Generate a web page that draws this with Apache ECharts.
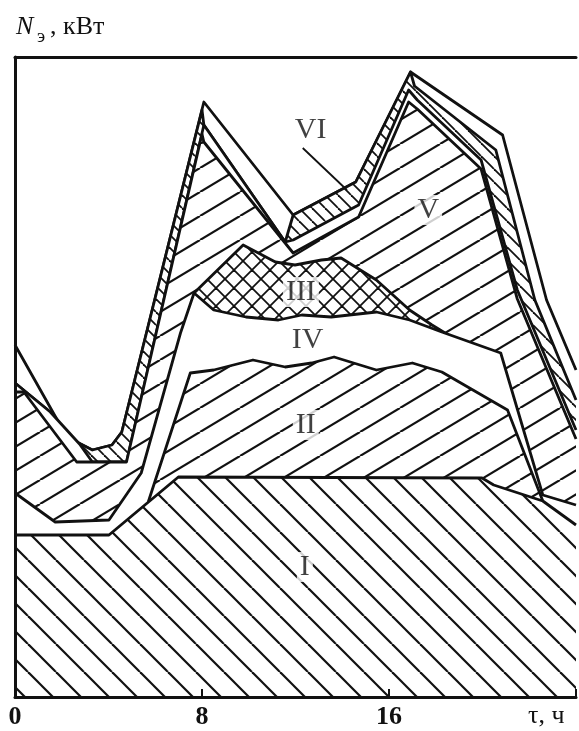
<!DOCTYPE html>
<html>
<head>
<meta charset="utf-8">
<script src="https://cdn.jsdelivr.net/npm/echarts@6/dist/echarts.min.js"></script>
<style>
  html, body { margin: 0; padding: 0; background: #fff; }
  #chart { width: 579px; height: 731px; }
</style>
</head>
<body>
<div id="chart"></div>
<script>
// Daily load graph: hour of day on x, power level of each band's upper edge on y.
// Each band is drawn from its upper edge down to the axis, top band first,
// so every lower band paints over the part of the band above it.

const hourTicks = [0, 8, 16];

// upper outline of the whole graph (white margin band above VI)
const outlineTop = [[0,352],[2.22,260],[3.31,247],[4.15,252],[4.57,265],[8.08,595],[11.90,482],[14.58,515],[16.92,625],[20.86,562],[22.74,397],[24,327]];
// upper edge of band VI
const levelVI = [[0,314],[1.51,285],[2.22,260],[3.31,247],[4.15,252],[4.57,265],[8.0,587],[8.08,572],[11.56,455],[11.90,482],[14.58,515],[16.92,625],[17.09,611],[20.57,547],[22.24,397],[24,297]];
// lower edge of band VI (white gap below it)
const levelGapVI = [[0,314],[1.51,285],[2.76,253],[3.31,235],[4.77,235],[8.08,572],[11.56,455],[11.90,457],[14.70,492],[16.84,607],[17.21,597],[19.94,537],[21.49,407],[24,267]];
// upper edge of band V
const levelV = [[0,305],[0.38,305],[2.64,235],[4.77,235],[8.0,563],[8.08,555],[11.90,444],[14.70,480],[16.84,595],[17.21,588],[19.94,528],[21.49,398],[24,258]];
// upper edge of band III
const levelIII = [[7.66,404],[9.76,452],[11.14,435],[11.98,432],[13.11,437],[13.95,439],[15.46,417],[16.88,387],[17.84,372],[18.47,363]];
// upper edge of band IV
const levelIV = [[0,204],[1.72,175],[4.02,177],[5.40,224],[7.08,364],[7.66,404],[8.50,387],[9.88,380],[11.27,377],[12.27,382],[13.53,380],[15.46,385],[16.88,377],[18.26,365],[20.78,344],[22.58,202],[24,192]];
// upper edge of band II
const levelII = [[5.70,195],[7.50,324],[8.50,327],[10.18,337],[11.56,330],[12.69,334],[13.65,340],[15.46,327],[17.0,334],[18.26,325],[21.07,287],[22.58,196]];
// upper edge of band I
const levelI = [[0,162],[4.02,162],[6.99,220],[19.98,219],[20.48,212],[22.58,196],[24,172]];

// band captions
const captionText = ['I', 'II', 'III', 'IV', 'V', 'VI'];
const captionHour = [12.4, 12.44, 12.23, 12.52, 17.68, 12.65];
const captionLevel = [130, 272, 405, 357, 487, 567];
// pointer from the VI caption to its band
const pointerVI = [[12.31,549],[14.2,507]];

const INK = '#111';
const SERIF = '"Liberation Serif", "DejaVu Serif", serif';

// Tileable hatch: each segment is repeated one tile left and right so corners join.
function hatch(w, h, segs, lw) {
  const c = document.createElement('canvas');
  c.width = w; c.height = h;
  const g = c.getContext('2d');
  g.fillStyle = '#fff';
  g.fillRect(0, 0, w, h);
  g.strokeStyle = INK;
  g.lineWidth = lw;
  segs.forEach(s => {
    [-w, 0, w].forEach(dx => {
      g.beginPath();
      g.moveTo(s[0] + dx, s[1]);
      g.lineTo(s[2] + dx, s[3]);
      g.stroke();
    });
  });
  return { image: c, repeat: 'repeat' };
}

const fillWhite = '#ffffff';
const fillI = hatch(28, 28, [[0, 0, 28, 28]], 2.2);
const fillII = hatch(40, 24, [[0, 24, 40, 0]], 2.2);
const fillV = hatch(40, 24, [[0, 24, 40, 0]], 2.2);
const fillIII = hatch(18, 18, [[0, 0, 18, 18], [0, 18, 18, 0]], 1.8);
const fillVI = hatch(13, 13, [[0, 0, 13, 13]], 1.8);

const bands = [
  { name: 'top', data: outlineTop, fill: fillWhite },
  { name: 'VI', data: levelVI, fill: fillVI },
  { name: 'gapVI', data: levelGapVI, fill: fillWhite },
  { name: 'V', data: levelV, fill: fillV },
  { name: 'III', data: levelIII, fill: fillIII },
  { name: 'IV', data: levelIV, fill: fillWhite },
  { name: 'II', data: levelII, fill: fillII },
  { name: 'I', data: levelI, fill: fillI }
];

const series = bands.map((b, i) => ({
  name: b.name,
  type: 'line',
  data: b.data,
  symbol: 'none',
  silent: true,
  z: 2 + i,
  lineStyle: { color: INK, width: 2.8, join: 'round' },
  areaStyle: { color: b.fill, opacity: 1, origin: 'start' }
}));

series.push({
  type: 'line',
  data: pointerVI,
  symbol: 'none',
  silent: true,
  z: 20,
  lineStyle: { color: INK, width: 1.8 }
});

series.push({
  type: 'scatter',
  silent: true,
  z: 30,
  symbolSize: 0,
  data: captionText.map((t, i) => ({ name: t, value: [captionHour[i], captionLevel[i]] })),
  label: {
    show: true,
    position: 'inside',
    formatter: '{b}',
    fontFamily: SERIF,
    fontSize: 30,
    color: INK,
    backgroundColor: '#fff',
    padding: [0, 3]
  }
});

const chart = echarts.init(document.getElementById('chart'), null, { renderer: 'canvas' });
chart.setOption({
  animation: false,
  backgroundColor: '#fff',
  grid: { left: 15, right: -8, top: 57, bottom: 34 },
  xAxis: [
    {
      type: 'value', min: 0, max: 24, interval: 8, position: 'bottom', z: 50,
      axisLine: { show: true, lineStyle: { color: INK, width: 3 } },
      axisTick: { show: true, inside: true, length: 8, lineStyle: { color: INK, width: 2 } },
      axisLabel: {
        margin: 7, fontFamily: SERIF, fontSize: 26, fontWeight: 'bold', color: INK,
        formatter: v => (hourTicks.indexOf(v) >= 0 ? String(v) : '')
      },
      splitLine: { show: false }
    },
    {
      type: 'value', min: 0, max: 24, position: 'top', z: 50,
      axisLine: { show: true, lineStyle: { color: INK, width: 3 } },
      axisTick: { show: false }, axisLabel: { show: false }, splitLine: { show: false }
    }
  ],
  yAxis: {
    type: 'value', min: 0, max: 640, z: 50,
    axisLine: { show: true, lineStyle: { color: INK, width: 3 } },
    axisTick: { show: false }, axisLabel: { show: false }, splitLine: { show: false }
  },
  graphic: [
    { type: 'text', left: 16, top: 14, style: { text: 'N', font: 'italic 26px ' + SERIF, fill: INK } },
    { type: 'text', left: 37, top: 28, style: { text: 'э', font: '19px ' + SERIF, fill: INK } },
    { type: 'text', left: 50, top: 14, style: { text: ', кВт', font: '26px ' + SERIF, fill: INK } },
    { type: 'text', left: 528, top: 703, style: { text: 'τ, ч', font: '26px ' + SERIF, fill: INK } }
  ],
  series: series
});
</script>
</body>
</html>
